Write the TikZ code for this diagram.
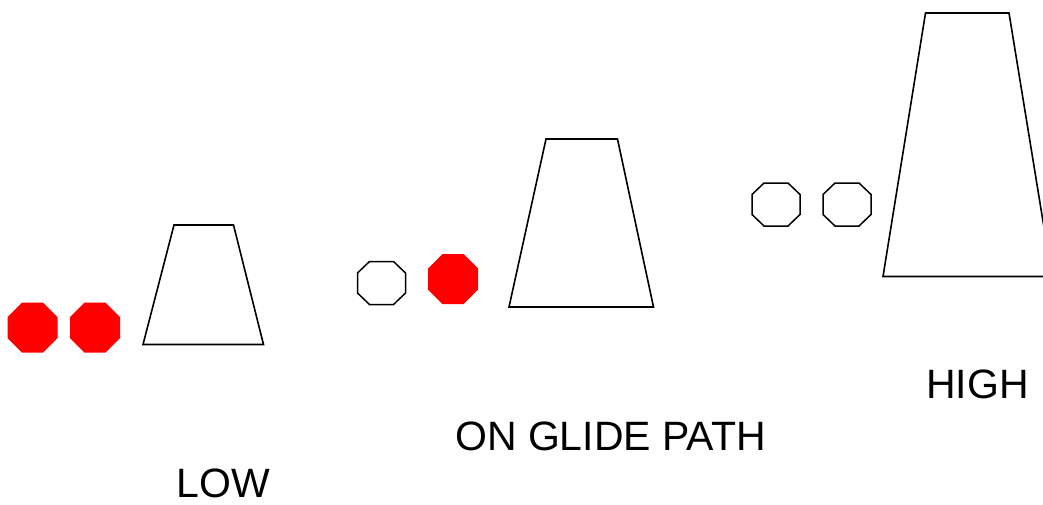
\documentclass[tikz,border=0pt]{standalone}
\usepackage{fontspec}
\setmainfont{Liberation Sans}
\definecolor{lampred}{RGB}{255, 0, 0}
\def\redlamp#1#2{
    \fill[lampred] (#1-25, #2-10.5) -- (#1-10.5, #2-25) -- (#1+10.5, #2-25) -- (#1+25, #2-10.5)
        -- (#1+25, #2+10.5) -- (#1+10.5, #2+25) -- (#1-10.5, #2+25) -- (#1-25, #2+10.5) -- cycle;
}
\def\whitelamp#1#2{
    \draw[lampline] (#1-24, #2-10) -- (#1-12, #2-21.5) -- (#1+12, #2-21.5) -- (#1+24, #2-10)
        -- (#1+24, #2+10) -- (#1+12, #2+21.5) -- (#1-12, #2+21.5) -- (#1-24, #2+10) -- cycle;
}
\spaceskip=18.5pt

\begin{document}
\begin{tikzpicture}[x=1pt, y=-1pt]
\tikzset{lampline/.style={black, line width=1.5pt, line join=miter},
         runway/.style={black, line width=1.6pt, line join=miter},
         caption/.style={anchor=base, inner sep=0, font=\fontsize{41}{48}\selectfont}}
\useasboundingbox (0, 0) rectangle (1043, 504);

% low
\redlamp{32.5}{327.5} \redlamp{95}{327.5}
\draw[runway] (143, 344.5) -- (174, 225) -- (233.5, 225) -- (263.5, 344.5) -- cycle;
\node[caption] (low) at (223.5, 497) {LOW};

% on glide path
\whitelamp{381.5}{283} \redlamp{453}{279}
\draw[runway] (509, 307) -- (546, 139) -- (617.5, 139) -- (653.5, 307) -- cycle;
\node[caption] (onpath) at (610.5, 450) {ON GLIDE PATH};

% high
\whitelamp{776}{204.5} \whitelamp{847}{204.5}
\draw[runway] (883, 276.5) -- (925.5, 13) -- (1009, 13) -- (1052, 276.5) -- cycle;
\node[caption] (high) at (977.5, 398) {HIGH};
\end{tikzpicture}
\end{document}
